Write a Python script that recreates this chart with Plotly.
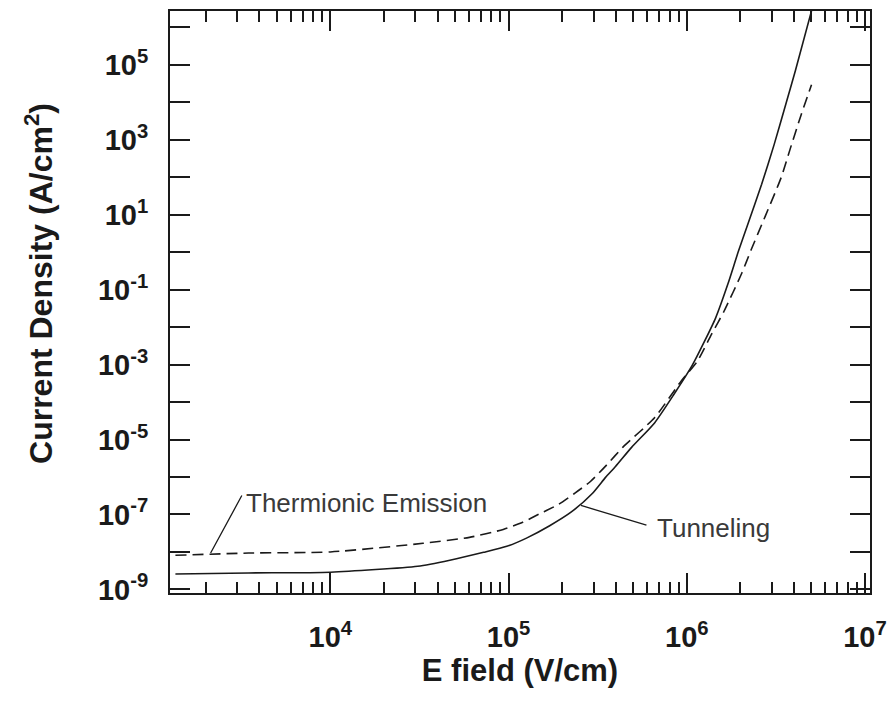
import plotly.graph_objects as go

# Electric field (V/cm) and current density (A/cm^2) for the two conduction mechanisms
e_tunneling = [1.35e3, 3.47e3, 1.00e4, 3.09e4, 4.68e4, 7.24e4, 9.77e4, 1.26e5, 1.70e5,
               2.24e5, 2.95e5, 3.50e5, 3.98e5, 4.90e5, 6.61e5, 8.51e5, 1.07e6, 1.26e6,
               1.45e6, 1.70e6, 1.95e6, 2.19e6, 2.63e6, 3.09e6, 3.63e6, 4.07e6, 5.01e6]
j_tunneling = [2.57e-9, 2.75e-9, 2.88e-9, 4.17e-9, 6.03e-9, 9.77e-9, 1.41e-8, 2.34e-8,
               5.01e-8, 1.15e-7, 3.63e-7, 9.77e-7, 1.91e-6, 6.17e-6, 2.82e-5, 1.66e-4,
               9.33e-4, 4.27e-3, 1.74e-2, 0.141, 1.07, 5.25, 64.6, 741, 1.05e4, 7.08e4, 2.75e6]

e_thermionic = [1.35e3, 3.47e3, 1.00e4, 3.31e4, 6.03e4, 9.33e4, 1.20e5, 1.48e5, 1.91e5,
                2.34e5, 2.88e5, 3.55e5, 4.37e5, 6.61e5, 9.33e5, 1.15e6, 1.38e6, 1.62e6,
                2.04e6, 2.29e6, 2.75e6, 3.39e6, 3.80e6, 4.37e6, 5.01e6]
j_thermionic = [8.13e-9, 9.33e-9, 1.00e-8, 1.70e-8, 2.45e-8, 3.98e-8, 6.17e-8, 1.02e-7,
                1.86e-7, 3.63e-7, 7.59e-7, 2.09e-6, 6.17e-6, 3.89e-5, 3.72e-4, 1.26e-3,
                6.61e-3, 2.69e-2, 0.282, 1.12, 8.91, 100, 562, 4.47e3, 2.95e4]

# Axis ticks
x_major = [1e4, 1e5, 1e6, 1e7]
x_major_text = ["10<sup>4</sup>", "10<sup>5</sup>", "10<sup>6</sup>", "10<sup>7</sup>"]
x_minor = [m * 10 ** p for p in range(3, 7) for m in range(2, 10)]
y_exponents = list(range(-9, 7))
y_vals = [10.0 ** k for k in y_exponents]
y_text = [f"10<sup>{k}</sup>" if k % 2 else "" for k in y_exponents]

FONT = "Liberation Sans"
INK = "#1a1a1a"

fig = go.Figure()
fig.add_trace(go.Scatter(x=e_thermionic, y=j_thermionic, mode="lines",
                         line=dict(color=INK, width=1.6, dash="11px,6px", shape="spline", smoothing=0.6),
                         name="Thermionic Emission"))
fig.add_trace(go.Scatter(x=e_tunneling, y=j_tunneling, mode="lines",
                         line=dict(color=INK, width=1.6, shape="spline", smoothing=0.6),
                         name="Tunneling"))

axis_common = dict(showgrid=False, zeroline=False, showline=True, linecolor=INK, linewidth=2,
                   mirror="allticks", ticks="inside", ticklen=20, tickwidth=2, tickcolor=INK)

fig.update_xaxes(type="log", range=[3.1, 7.028], tickmode="array", tickvals=x_major,
                 ticktext=x_major_text, ticklabelstandoff=17,
                 tickfont=dict(family=FONT, size=29, color=INK, weight="bold"),
                 minor=dict(tickmode="array", tickvals=x_minor, ticks="inside", ticklen=11,
                            tickwidth=2, tickcolor=INK, showgrid=False),
                 title=dict(text="E field (V/cm)", standoff=7,
                            font=dict(family=FONT, size=31, color=INK, weight="bold")),
                 **axis_common)
fig.update_yaxes(type="log", range=[-9.096, 6.436], tickmode="array", tickvals=y_vals,
                 ticktext=y_text, ticklabelstandoff=14,
                 tickfont=dict(family=FONT, size=29, color=INK, weight="bold"),
                 **axis_common)

annotations = [
    # y-axis title
    dict(text="Current Density (A/cm<sup>2</sup>)", xref="paper", yref="paper",
         x=0, y=0.531, xshift=-131, xanchor="center", yanchor="middle", textangle=-90,
         showarrow=False, font=dict(family=FONT, size=32, color=INK, weight="bold")),
    # curve labels with leader lines
    dict(text="Thermionic Emission", x=3.517, y=-6.70, xref="x", yref="y",
         xanchor="left", yanchor="middle", showarrow=False,
         font=dict(family=FONT, size=26, color="#3a3a3a")),
    dict(text="", x=3.328, y=-8.03, xref="x", yref="y", showarrow=True, arrowhead=0,
         arrowwidth=1.3, arrowcolor=INK, ax=32, ay=-59, standoff=0, startstandoff=0),
    dict(text="Tunneling", x=5.822, y=-7.37, xref="x", yref="y",
         xanchor="left", yanchor="middle", showarrow=False,
         font=dict(family=FONT, size=26, color="#3a3a3a")),
    dict(text="", x=5.406, y=-6.76, xref="x", yref="y", showarrow=True, arrowhead=0,
         arrowwidth=1.3, arrowcolor=INK, ax=67, ay=20, standoff=0, startstandoff=0),
]

fig.update_layout(width=896, height=702, margin=dict(l=170, r=19, t=9, b=109),
                  paper_bgcolor="white", plot_bgcolor="white", showlegend=False,
                  annotations=annotations)

fig.write_html("out.html")
